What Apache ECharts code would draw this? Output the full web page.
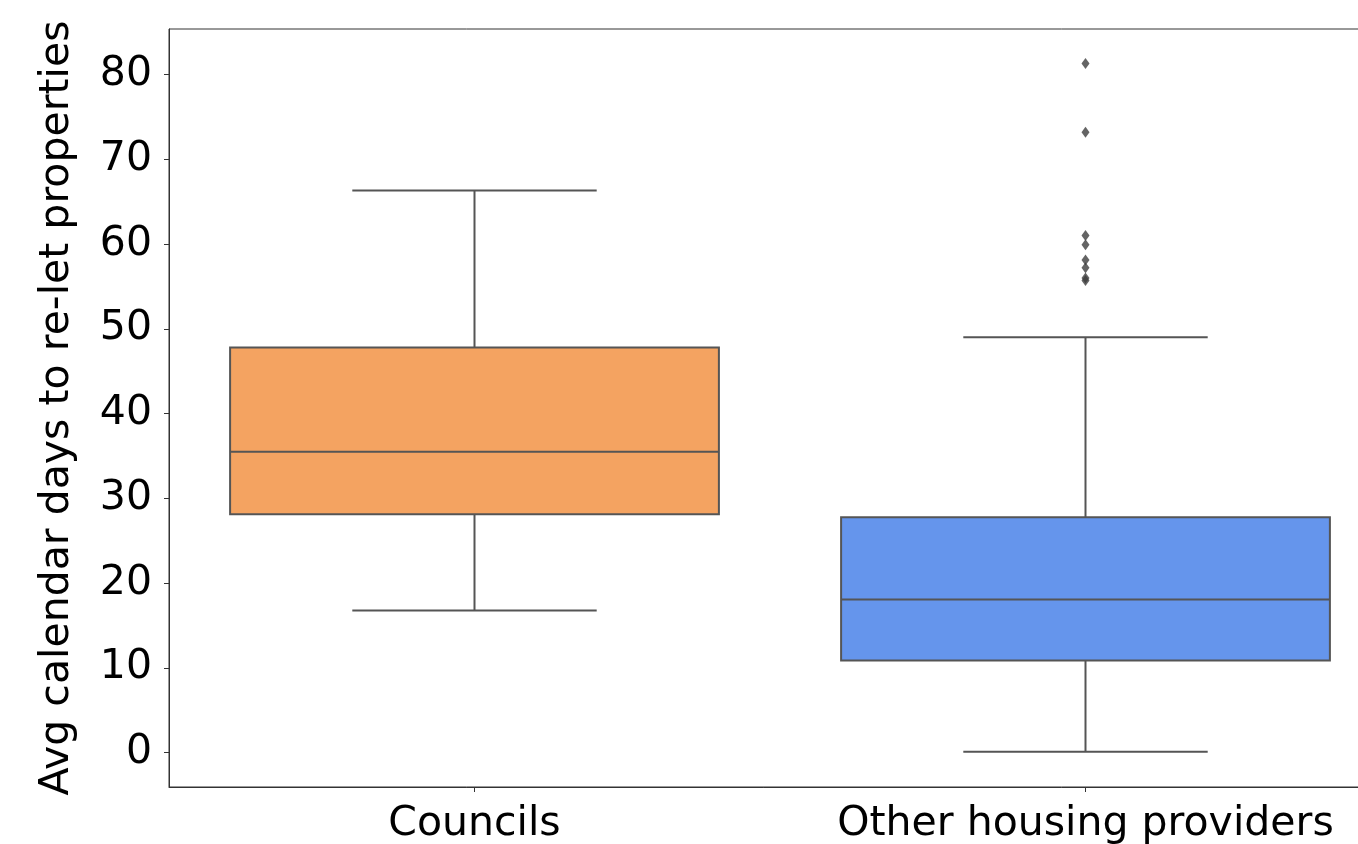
<!DOCTYPE html>
<html>
<head>
<meta charset="utf-8">
<script src="https://cdn.jsdelivr.net/npm/echarts@6/dist/echarts.min.js"></script>
<style>html,body{margin:0;padding:0;background:#fff;}#c{width:1358px;height:844px;}</style>
</head>
<body>
<div id="c"></div>
<script>
var categories = ['Councils', 'Other housing providers'];
var lowerWhisker = [16.75, 0.1];
var q1 = [28.1, 10.85];
var median = [35.5, 18.05];
var q3 = [47.8, 27.75];
var upperWhisker = [66.3, 49.0];
var outliers = [[], [81.3, 73.2, 61.0, 59.9, 58.1, 57.2, 56.0, 55.7]];
var yTicks = [0, 10, 20, 30, 40, 50, 60, 70, 80];
var boxColors = ['#F4A361', '#6595EC'];
var lineColor = '#555555';

var boxData = categories.map(function (c, i) {
  return [i, lowerWhisker[i], q1[i], median[i], q3[i], upperWhisker[i]];
});
var outlierData = [];
outliers.forEach(function (arr, i) {
  arr.forEach(function (v) { outlierData.push([i, v]); });
});

var chart = echarts.init(document.getElementById('c'), null, {renderer: 'canvas'});
var font = 'DejaVu Sans';
chart.setOption({
  animation: false,
  grid: {left: 169, top: 29, width: 1222, height: 758, outerBoundsMode: 'none', containLabel: false,
    show: true, borderColor: '#333', borderWidth: 1, backgroundColor: 'transparent'},
  xAxis: {
    type: 'category',
    data: categories,
    boundaryGap: true,
    axisLine: {show: true, onZero: false, lineStyle: {color: '#333', width: 1}},
    axisTick: {show: true, alignWithLabel: true, length: 5, lineStyle: {color: '#333'}},
    axisLabel: {color: '#000', fontSize: 41, fontFamily: font, margin: 17, interval: 0, hideOverlap: false},
    splitLine: {show: false}
  },
  yAxis: {
    type: 'value',
    min: -4.07,
    max: 85.37,
    name: 'Avg calendar days to re-let properties',
    nameLocation: 'middle',
    nameGap: 91,
    nameTextStyle: {color: '#000', fontSize: 41, fontFamily: font},
    axisLine: {show: true, onZero: false, lineStyle: {color: '#333', width: 1}},
    axisTick: {show: true, length: 5, lineStyle: {color: '#333'}, customValues: yTicks},
    axisLabel: {color: '#000', fontSize: 41, fontFamily: font, margin: 17, customValues: yTicks},
    splitLine: {show: false}
  },
  series: [
    {
      type: 'custom',
      data: boxData,
      encode: {x: 0, y: [1, 2, 3, 4, 5]},
      renderItem: function (params, api) {
        var idx = api.value(0);
        var band = api.size([1, 0])[0];
        var bw = band * 0.8;
        var cw = bw / 2;
        var pLow = api.coord([idx, api.value(1)]);
        var pQ1 = api.coord([idx, api.value(2)]);
        var pMed = api.coord([idx, api.value(3)]);
        var pQ3 = api.coord([idx, api.value(4)]);
        var pHigh = api.coord([idx, api.value(5)]);
        var cx = pLow[0];
        var ls = {stroke: lineColor, lineWidth: 2};
        return {
          type: 'group',
          children: [
            {type: 'line', shape: {x1: cx, y1: pQ1[1], x2: cx, y2: pLow[1]}, style: ls},
            {type: 'line', shape: {x1: cx, y1: pQ3[1], x2: cx, y2: pHigh[1]}, style: ls},
            {type: 'line', shape: {x1: cx - cw / 2, y1: pLow[1], x2: cx + cw / 2, y2: pLow[1]}, style: ls},
            {type: 'line', shape: {x1: cx - cw / 2, y1: pHigh[1], x2: cx + cw / 2, y2: pHigh[1]}, style: ls},
            {type: 'rect', shape: {x: cx - bw / 2, y: pQ3[1], width: bw, height: pQ1[1] - pQ3[1]},
              style: {fill: boxColors[params.dataIndex], stroke: lineColor, lineWidth: 2}},
            {type: 'line', shape: {x1: cx - bw / 2, y1: pMed[1], x2: cx + bw / 2, y2: pMed[1]}, style: ls}
          ]
        };
      }
    },
    {
      type: 'scatter',
      data: outlierData,
      symbol: 'diamond',
      symbolSize: [8, 11],
      itemStyle: {color: '#3d3d3d'},
      z: 5
    }
  ]
});
</script>
</body>
</html>
